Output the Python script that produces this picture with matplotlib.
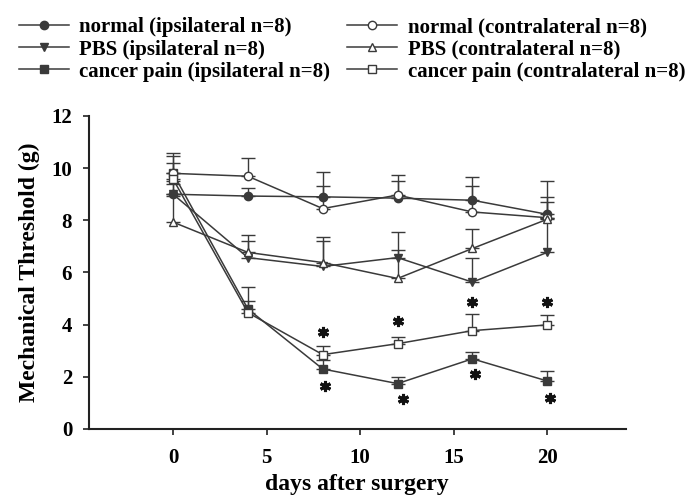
import numpy as np
import matplotlib
matplotlib.use('Agg')
import matplotlib.pyplot as plt

plt.rcParams['font.family'] = ['Liberation Serif', 'DejaVu Serif']
plt.rcParams['font.weight'] = 'bold'

days = [0, 4, 8, 12, 16, 20]

# mean thresholds (g) and upper error bars
normal_ipsi = [9.0, 8.93, 8.9, 8.85, 8.77, 8.23]
normal_ipsi_err = [0.5, 0.3, 0.96, 0.66, 0.88, 0.65]
normal_contra = [9.8, 9.69, 8.45, 8.97, 8.32, 8.1]
normal_contra_err = [0.65, 0.71, 0.87, 0.77, 1.0, 0.6]
pbs_ipsi = [9.0, 6.57, 6.23, 6.57, 5.63, 6.77]
pbs_ipsi_err = [0.4, 0.63, 0.97, 0.3, 0.91, 1.3]
pbs_contra = [7.93, 6.77, 6.38, 5.77, 6.92, 8.04]
pbs_contra_err = [1.0, 0.65, 0.97, 1.77, 0.73, 1.46]
cancer_ipsi = [9.8, 4.6, 2.3, 1.74, 2.69, 1.84]
cancer_ipsi_err = [0.8, 0.3, 0.35, 0.27, 0.27, 0.4]
cancer_contra = [9.58, 4.46, 2.85, 3.27, 3.77, 3.99]
cancer_contra_err = [0.6, 1.0, 0.34, 0.27, 0.65, 0.38]

labels = ['normal (ipsilateral n=8)', 'PBS (ipsilateral n=8)',
          'cancer pain (ipsilateral n=8)', 'normal (contralateral n=8)',
          'PBS (contralateral n=8)', 'cancer pain (contralateral n=8)']

# significance asterisks
star_x = [8, 8.13, 12, 12.3, 16, 16.15, 20, 20.15]
star_y = [3.7, 1.63, 4.13, 1.15, 4.88, 2.1, 4.87, 1.2]

col = '#3a3a3a'

fig = plt.figure(figsize=(7, 4.98), dpi=100)
ax = fig.add_axes([0.127, 0.1386, 0.767, 0.6285])

series = [
    (normal_ipsi, normal_ipsi_err, 'o', col),
    (pbs_ipsi, pbs_ipsi_err, 'v', col),
    (cancer_ipsi, cancer_ipsi_err, 's', col),
    (normal_contra, normal_contra_err, 'o', 'white'),
    (pbs_contra, pbs_contra_err, '^', 'white'),
    (cancer_contra, cancer_contra_err, 's', 'white'),
]

handles = []
for (vals, err, mk, fc), lab in zip(series, labels):
    ax.errorbar(days, vals, yerr=[np.zeros(len(err)), err], fmt='none',
                ecolor=col, elinewidth=1, capsize=5, capthick=1, zorder=2)
    h, = ax.plot(days, vals, color=col, lw=1.1, marker=mk, markersize=6,
                 markerfacecolor=fc, markeredgecolor=col, markeredgewidth=1,
                 label=lab, zorder=3)
    handles.append(h)

ax.plot(star_x, star_y, linestyle='none', marker=(6, 2, 0), markersize=8,
        markeredgewidth=2.2, color='#111111', zorder=4)

ax.set_xlim(-4.5, 24.2)
ax.set_ylim(0, 12)
ax.set_xticks([0, 5, 10, 15, 20])
ax.set_yticks([0, 2, 4, 6, 8, 10, 12])
ax.spines['top'].set_visible(False)
ax.spines['right'].set_visible(False)
for s in ['left', 'bottom']:
    ax.spines[s].set_linewidth(1.5)
    ax.spines[s].set_color('#222222')
ax.tick_params(axis='both', direction='out', length=4, width=1.2,
               colors='#222222', labelsize=15, pad=8)
ax.tick_params(axis='x', pad=10)
for t in ax.get_xticklabels() + ax.get_yticklabels():
    t.set_fontweight('bold')
    t.set_color('black')

ax.set_xlabel('days after surgery', fontsize=17, fontweight='bold', labelpad=4)
ax.set_ylabel('Mechanical Threshold (g)', fontsize=17, fontweight='bold',
              labelpad=8)

fig.legend(handles=handles, labels=labels, ncol=2, loc='upper left',
           bbox_to_anchor=(19 / 700, 0.965), frameon=False,
           borderpad=0, borderaxespad=0,
           handlelength=2.4, handletextpad=0.5, columnspacing=0.8,
           labelspacing=0.1, prop={'weight': 'bold', 'size': 15})

fig.savefig('out.png', dpi=100)
